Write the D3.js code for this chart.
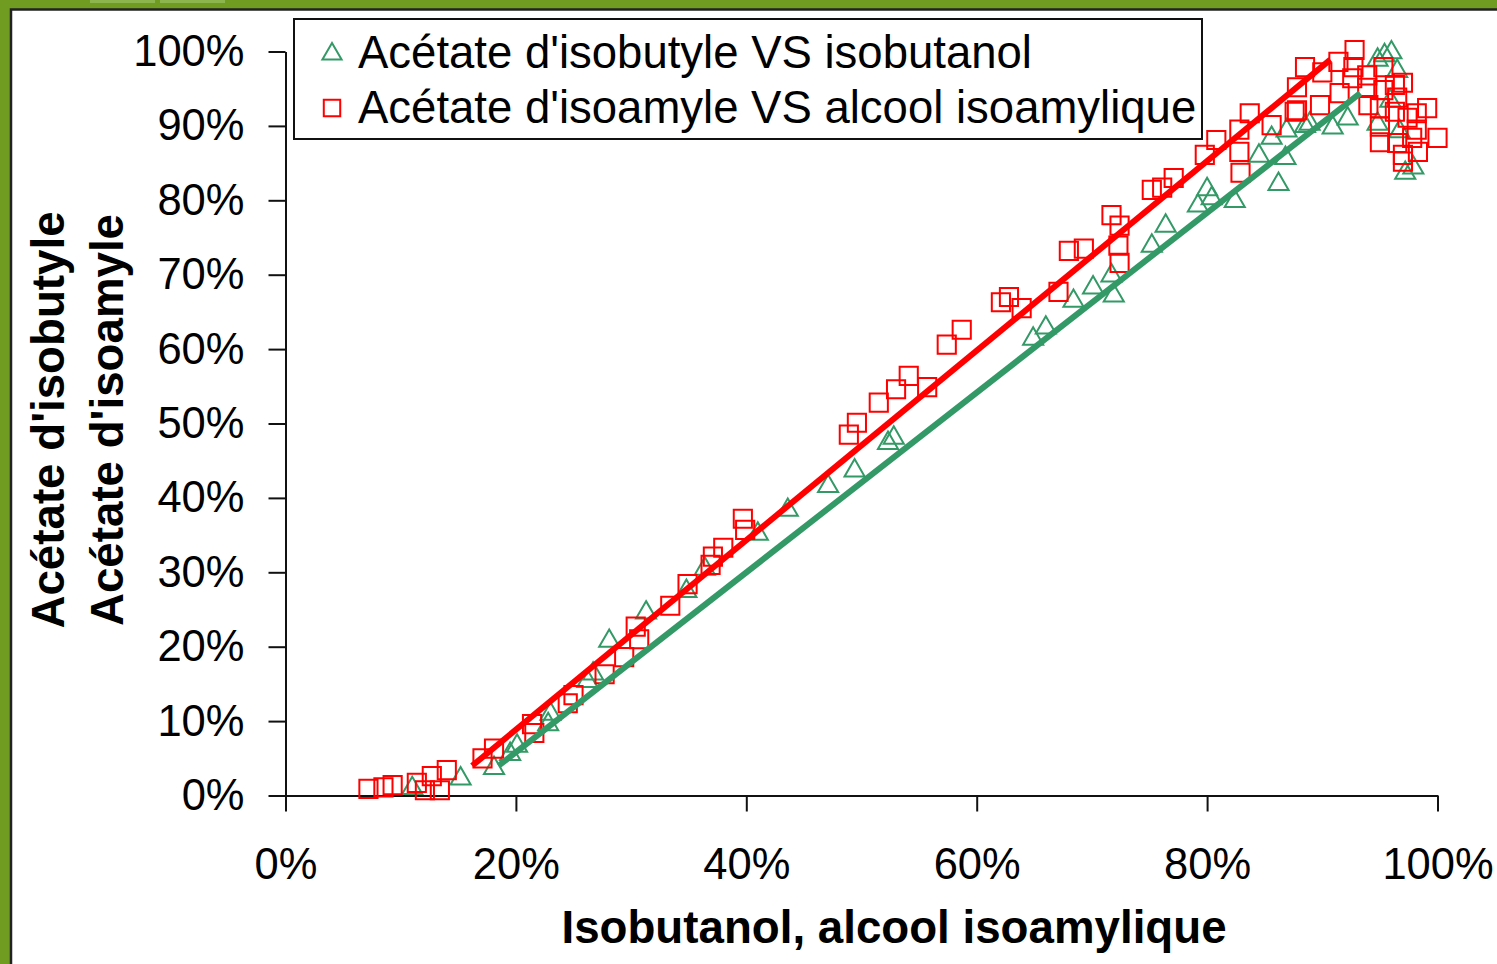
<!DOCTYPE html>
<html>
<head>
<meta charset="utf-8">
<script src="https://cdn.jsdelivr.net/npm/d3@7"></script>
<style>
    html, body { margin: 0; padding: 0; background: #6f9c21; overflow: hidden; }
    svg text { font-family: "Liberation Sans", Arial, sans-serif; }
</style>
</head>
<body>
<div id="chart"></div>
<script>
// chart values (percent)
var xTicks = [0, 20, 40, 60, 80, 100];
var yTicks = [0, 10, 20, 30, 40, 50, 60, 70, 80, 90, 100];

var seriesNames = ["Acétate d'isobutyle VS isobutanol", "Acétate d'isoamyle VS alcool isoamylique"];

// isobutanol (x) vs acetate d'isobutyle (y)
var isobutylPoints = [
    [11.0, 1.1], [15.2, 2.4], [18.1, 3.8], [19.5, 5.7], [20.1, 6.8], [22.8, 9.7], [23.0, 11.1],
    [26.2, 15.5], [26.7, 16.5], [28.1, 20.9], [31.3, 24.7], [34.8, 27.6], [36.4, 30.6], [41.0, 35.3],
    [43.6, 38.5], [47.1, 41.7], [49.4, 43.8], [52.3, 47.5], [52.8, 48.2], [64.9, 61.5], [66.0, 63.0],
    [68.4, 66.6], [70.1, 68.4], [71.7, 70.0], [71.9, 67.3], [75.2, 74.0], [76.4, 76.7], [79.2, 79.4],
    [80.0, 81.6], [80.4, 80.4], [82.4, 80.0], [84.5, 86.1], [85.6, 88.5], [86.8, 85.8], [86.2, 82.3],
    [86.9, 89.5], [88.5, 90.1], [88.9, 90.4], [90.9, 89.9], [92.2, 91.1], [94.8, 99.0], [95.4, 99.6],
    [96.0, 100.0], [96.5, 97.5], [94.8, 90.4], [95.9, 93.5], [96.7, 89.4], [97.2, 83.8], [97.9, 84.5]
];

// alcool isoamylique (x) vs acetate d'isoamyle (y)
var isoamylPoints = [
    [7.2, 0.9], [8.5, 1.1], [9.3, 1.4], [11.4, 1.7], [12.1, 0.7], [13.4, 0.7], [12.7, 2.6], [14.0, 3.4],
    [17.1, 5.0], [18.1, 6.3], [21.4, 9.6], [21.6, 8.4], [24.5, 12.4], [25.0, 13.5], [27.7, 16.3],
    [29.4, 18.6], [30.7, 21.0], [30.4, 22.7], [33.4, 25.5], [34.9, 28.4], [36.9, 31.0], [37.1, 32.1],
    [38.0, 33.3], [39.7, 37.2], [39.9, 35.7], [48.9, 48.5], [49.6, 50.1], [51.5, 52.8], [53.0, 54.6],
    [54.1, 56.4], [55.7, 54.9], [57.4, 60.6], [58.7, 62.6], [62.1, 66.3], [62.8, 67.0], [63.9, 65.5],
    [67.1, 67.7], [68.0, 73.2], [69.3, 73.5], [71.7, 78.0], [72.4, 76.6], [72.3, 73.9], [72.4, 71.6],
    [75.2, 81.4], [76.1, 81.7], [77.1, 83.0], [79.8, 86.1], [80.8, 88.1], [82.8, 89.5], [82.8, 86.5],
    [82.9, 83.7], [83.7, 91.7], [85.6, 90.1], [87.6, 91.9], [87.8, 95.2], [87.8, 92.1], [88.5, 97.9],
    [89.8, 92.8], [90.0, 97.2], [91.4, 98.6], [92.8, 100.2], [92.7, 97.9], [91.5, 94.4], [92.6, 96.4],
    [93.9, 96.8], [93.9, 95.1], [95.3, 97.9], [95.3, 94.8], [94.0, 92.8], [96.3, 95.5], [97.0, 95.8],
    [96.5, 93.8], [95.0, 92.4], [96.3, 91.9], [95.0, 89.9], [98.2, 91.7], [99.1, 92.4], [97.4, 91.1],
    [98.2, 89.5], [100.0, 88.4], [95.0, 87.8], [96.5, 87.7], [97.8, 88.4], [97.0, 86.1], [98.3, 86.5],
    [97.0, 85.2]
];

// linear trend lines, start and end of each
var isobutylTrend = [[18.5, 4.0], [93.3, 94.4]];
var isoamylTrend = [[16.2, 4.0], [90.7, 98.9]];

function scatter() {
    var svg,
        layout =
        {
            "height": 964,
            "width": 1497,
            "left": 285.5,
            "right": 1437.5,
            "top": 51.5,
            "bottom": 795.5
        },
        green = "#339966",
        red = "#ff0000";

    function chart(selection) {
        selection.each(function() {
            init(d3.select(this));
        });
    }

    function init(div) {
        svg = div.append("svg")
            .attr("width", layout.width)
            .attr("height", layout.height);

        // green slide background with the white panel
        svg.append("rect")
            .attr("width", layout.width).attr("height", layout.height)
            .attr("fill", "#6f9c21");
        svg.append("rect").attr("x", 90).attr("y", 0).attr("width", 65).attr("height", 3).attr("fill", "#8db54e");
        svg.append("rect").attr("x", 160).attr("y", 0).attr("width", 65).attr("height", 3).attr("fill", "#8db54e");
        svg.append("rect")
            .attr("x", 11).attr("y", 9.5)
            .attr("width", layout.width).attr("height", layout.height)
            .attr("fill", "white")
            .attr("stroke", "#222")
            .attr("stroke-width", 2.5);

        var x = d3.scaleLinear().domain([0, 100]).range([layout.left, layout.right]);
        var y = d3.scaleLinear().domain([0, 100]).range([layout.bottom, layout.top]);

        // axes
        var yAxis = svg.append("g")
            .attr("transform", "translate(" + layout.left + ",0)")
            .call(d3.axisLeft(y).tickValues(yTicks).tickSize(17).tickSizeOuter(0).tickPadding(24)
                .tickFormat(d => d + "%"));
        var xAxis = svg.append("g")
            .attr("transform", "translate(0," + layout.bottom + ")")
            .call(d3.axisBottom(x).tickValues(xTicks).tickSize(16).tickSizeOuter(0).tickPadding(37)
                .tickFormat(d => d + "%"));

        [xAxis, yAxis].forEach(a => {
            a.attr("font-family", null).attr("font-size", null);
            a.selectAll("path, line").attr("stroke", "#111").attr("stroke-width", 2);
            a.selectAll("text").attr("fill", "#000").style("font-size", "43.5px");
        });

        // markers
        var triangle = d3.symbol().type(d3.symbolTriangle).size(175);
        var square = d3.symbol().type(d3.symbolSquare).size(330);

        svg.append("g").selectAll("path")
            .data(isobutylPoints)
            .enter()
            .append("path")
            .attr("transform", d => "translate(" + x(d[0]) + "," + (y(d[1]) + 1) + ")")
            .attr("d", triangle)
            .attr("fill", "none")
            .attr("stroke", green)
            .attr("stroke-width", 2);

        svg.append("g").selectAll("path")
            .data(isoamylPoints)
            .enter()
            .append("path")
            .attr("transform", d => "translate(" + x(d[0]) + "," + y(d[1]) + ")")
            .attr("d", square)
            .attr("fill", "none")
            .attr("stroke", red)
            .attr("stroke-width", 2);

        // trend lines
        var line = d3.line().x(d => x(d[0])).y(d => y(d[1]));
        svg.append("path")
            .datum(isobutylTrend)
            .attr("d", line)
            .attr("stroke", green)
            .attr("stroke-width", 6)
            .attr("fill", "none");
        svg.append("path")
            .datum(isoamylTrend)
            .attr("d", line)
            .attr("stroke", red)
            .attr("stroke-width", 6)
            .attr("fill", "none");

        // legend
        var legend = svg.append("g");
        legend.append("rect")
            .attr("x", 294).attr("y", 19)
            .attr("width", 908).attr("height", 120)
            .attr("fill", "white")
            .attr("stroke", "#111")
            .attr("stroke-width", 2);
        legend.append("path")
            .attr("transform", "translate(332,54)")
            .attr("d", d3.symbol().type(d3.symbolTriangle).size(160))
            .attr("fill", "none").attr("stroke", green).attr("stroke-width", 2);
        legend.append("path")
            .attr("transform", "translate(332,108)")
            .attr("d", d3.symbol().type(d3.symbolSquare).size(270))
            .attr("fill", "none").attr("stroke", red).attr("stroke-width", 2);
        legend.selectAll("text.lbl")
            .data(seriesNames)
            .enter()
            .append("text")
            .attr("class", "lbl")
            .attr("x", 358)
            .attr("y", (d, i) => 68 + i * 55)
            .style("font-size", "45.5px")
            .text(d => d);

        // axis titles
        svg.append("text")
            .attr("x", 894).attr("y", 943)
            .attr("text-anchor", "middle")
            .style("font-size", "45.7px").style("font-weight", "bold")
            .text("Isobutanol, alcool isoamylique");

        svg.append("text")
            .attr("transform", "translate(64,420) rotate(-90)")
            .attr("text-anchor", "middle")
            .style("font-size", "45.7px").style("font-weight", "bold")
            .text("Acétate d'isobutyle");
        svg.append("text")
            .attr("transform", "translate(123,420) rotate(-90)")
            .attr("text-anchor", "middle")
            .style("font-size", "45.7px").style("font-weight", "bold")
            .text("Acétate d'isoamyle");
    }

    return chart;
}

d3.select("#chart").call(scatter());
</script>
</body>
</html>
